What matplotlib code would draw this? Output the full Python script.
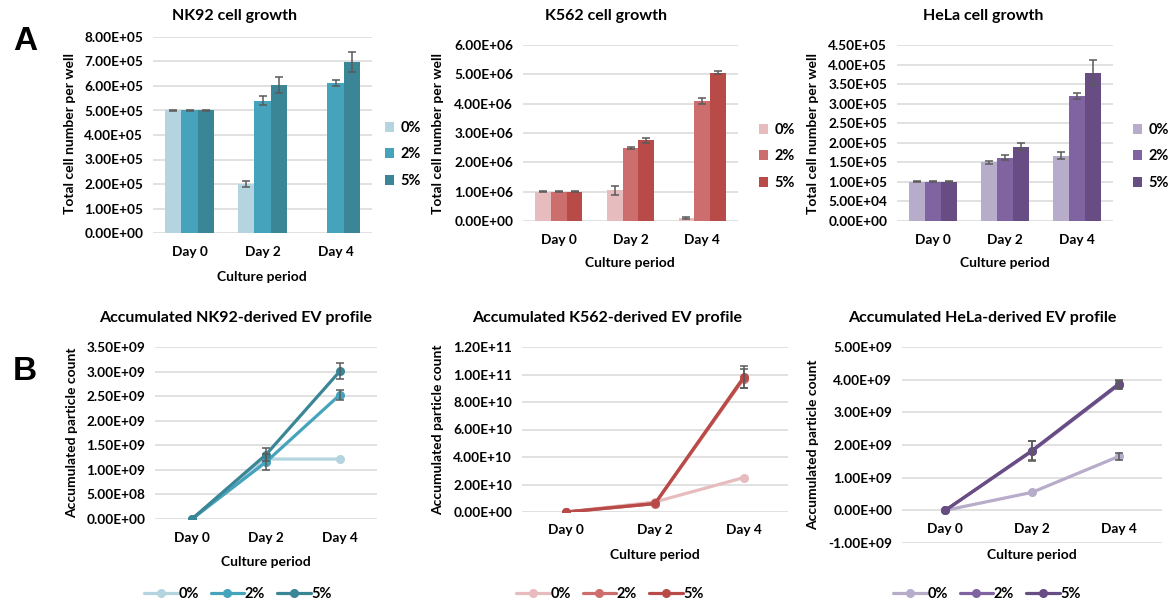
import matplotlib
matplotlib.use('Agg')
import matplotlib.pyplot as plt
from matplotlib.ticker import FuncFormatter, MultipleLocator
import numpy as np

plt.rcParams['font.family'] = ['Lato', 'DejaVu Sans']
plt.rcParams['font.weight'] = 'bold'

days = ['Day 0', 'Day 2', 'Day 4']
conc = ['0%', '2%', '5%']

# ---- Panel A: cell growth (rows = 0%, 2%, 5%; columns = Day 0, 2, 4)
nk92_cells = [[5.00e5, 2.00e5, 0.0], [5.00e5, 5.40e5, 6.12e5], [5.00e5, 6.04e5, 6.98e5]]
nk92_cells_err = [[0.01e5, 0.14e5, 0.0], [0.01e5, 0.19e5, 0.13e5], [0.01e5, 0.32e5, 0.42e5]]
k562_cells = [[1.00e6, 1.05e6, 0.10e6], [1.00e6, 2.50e6, 4.10e6], [1.00e6, 2.75e6, 5.06e6]]
k562_cells_err = [[0.01e6, 0.15e6, 0.03e6], [0.01e6, 0.03e6, 0.11e6], [0.01e6, 0.09e6, 0.05e6]]
hela_cells = [[1.00e5, 1.50e5, 1.67e5], [1.00e5, 1.62e5, 3.19e5], [1.00e5, 1.90e5, 3.79e5]]
hela_cells_err = [[0.01e5, 0.04e5, 0.085e5], [0.01e5, 0.07e5, 0.07e5], [0.01e5, 0.09e5, 0.32e5]]

# ---- Panel B: accumulated EV particle counts
nk92_ev = [[0.0, 1.22e9, 1.22e9], [0.0, 1.16e9, 2.53e9], [0.0, 1.31e9, 3.01e9]]
nk92_ev_err = [[0.0, 0.0, 0.0], [0.0, 0.17e9, 0.10e9], [0.0, 0.13e9, 0.17e9]]
k562_ev = [[0.0, 0.73e10, 2.50e10], [0.0, 0.60e10, 9.70e10], [0.0, 0.62e10, 9.80e10]]
k562_ev_err = [[0.0, 0.0, 0.0], [0.0, 0.0, 0.70e10], [0.0, 0.0, 0.80e10]]
hela_ev = [[0.0, 0.55e9, 1.65e9], [0.0, 1.81e9, 3.84e9], [0.0, 1.83e9, 3.87e9]]
hela_ev_err = [[0.0, 0.0, 0.12e9], [0.0, 0.30e9, 0.12e9], [0.0, 0.30e9, 0.12e9]]

nk92_colors = ['#B4D5DF', '#45A3BB', '#3A8596']
k562_colors = ['#E6BCBE', '#CC6E6D', '#B84A48']
hela_colors = ['#B8ACCB', '#8064A2', '#674D84']

W, H = 1169, 604
fig = plt.figure(figsize=(W / 100, H / 100), dpi=100)


def frac(x, y):
    return x / W, 1 - y / H


def rect(x0, y0, x1, y1):
    return [x0 / W, 1 - y1 / H, (x1 - x0) / W, (y1 - y0) / H]


fmt = FuncFormatter(lambda v, p: f"{v + 0:.2E}")
TICK_FS = 9.8
TITLE_FS = 11.5
LAB_FS = 10
LEG_FS = 10.5
ERRC = '#5A5A5A'


def style_axes(ax, ymin, ymax, step):
    ax.set_ylim(ymin, ymax)
    ax.yaxis.set_major_locator(MultipleLocator(step))
    ax.yaxis.set_major_formatter(fmt)
    ax.set_xlim(-0.5, 2.5)
    ax.set_xticks(range(len(days)))
    ax.set_xticklabels(days)
    for s in ax.spines.values():
        s.set_visible(False)
    ax.tick_params(length=0, labelsize=TICK_FS, colors='#000000', pad=7)
    ax.grid(axis='y', color='#D9D9D9', linewidth=1.1)
    ax.set_axisbelow(True)


def bar_panel(rc, vals, errs, colors, ymax, step, title, tpos, ylpos, xlpos, legpos):
    ax = fig.add_axes(rect(*rc))
    style_axes(ax, 0, ymax, step)
    x = np.arange(len(days))
    bw = 0.22
    handles = []
    for i, c in enumerate(conc):
        xi = x + (i - 1) * bw
        b = ax.bar(xi, vals[i], width=bw, color=colors[i], label=c, zorder=2)
        handles.append(b)
        v = np.array(vals[i], dtype=float)
        e = np.array(errs[i], dtype=float)
        m = v > 0
        ax.errorbar(xi[m], v[m], yerr=e[m], fmt='none', ecolor=ERRC,
                    elinewidth=1.1, capsize=2.6, capthick=1.1, zorder=3)
    ax.tick_params(axis='x', pad=9)
    fig.text(*frac(*tpos), title, ha='center', va='center', fontsize=TITLE_FS, fontweight='bold')
    fig.text(*frac(*ylpos), 'Total cell number per well', rotation=90, ha='center', va='center',
             fontsize=LAB_FS, fontweight='bold')
    fig.text(*frac(*xlpos), 'Culture period', ha='center', va='center', fontsize=LAB_FS, fontweight='bold')
    fig.legend(handles=handles, labels=conc, loc='upper left', bbox_to_anchor=frac(*legpos),
               frameon=False, fontsize=LEG_FS, handlelength=0.65, handleheight=0.65,
               handletextpad=0.4, labelspacing=0.85, borderaxespad=0, borderpad=0)
    return ax


def line_panel(rc, vals, errs, colors, ymin, ymax, step, title, tpos, ylpos, xlpos, legc, zero_axis=False):
    ax = fig.add_axes(rect(*rc))
    style_axes(ax, ymin, ymax, step)
    x = np.arange(len(days))
    handles = []
    for i, c in enumerate(conc):
        ln, = ax.plot(x, vals[i], color=colors[i], linewidth=2.3, marker='o', markersize=5.5,
                      label=c, zorder=2 + i * 0.1, solid_capstyle='round')
        handles.append(ln)
        v = np.array(vals[i], dtype=float)
        e = np.array(errs[i], dtype=float)
        m = e > 0
        ax.errorbar(x[m], v[m], yerr=e[m], fmt='none', ecolor=ERRC,
                    elinewidth=1.1, capsize=2.6, capthick=1.1, zorder=4)
    if zero_axis:
        ax.spines['bottom'].set_position(('data', 0))
    ax.tick_params(axis='x', pad=9)
    fig.text(*frac(*tpos), title, ha='center', va='center', fontsize=TITLE_FS, fontweight='bold')
    fig.text(*frac(*ylpos), 'Accumulated particle count', rotation=90, ha='center', va='center',
             fontsize=LAB_FS, fontweight='bold')
    fig.text(*frac(*xlpos), 'Culture period', ha='center', va='center', fontsize=LAB_FS, fontweight='bold')
    fig.legend(handles=handles, labels=conc, loc='center', bbox_to_anchor=frac(*legc), ncol=3,
               frameon=False, fontsize=LEG_FS, handlelength=2.3, handletextpad=0.05,
               columnspacing=0.8, borderaxespad=0, borderpad=0)
    return ax


bar_panel((153, 37, 372, 233), nk92_cells, nk92_cells_err, nk92_colors, 8e5, 1e5,
          'NK92 cell growth', (234, 16), (70, 133), (262, 277), (385, 121))
bar_panel((523, 45, 738, 221), k562_cells, k562_cells_err, k562_colors, 6e6, 1e6,
          'K562 cell growth', (606, 16), (438, 133), (630, 263), (759, 123))
bar_panel((897, 45, 1113, 221), hela_cells, hela_cells_err, hela_colors, 4.5e5, 0.5e5,
          'HeLa cell growth', (983, 16), (813, 133), (1005, 263), (1133, 123))

line_panel((155, 347, 377, 519), nk92_ev, nk92_ev_err, nk92_colors, 0, 3.5e9, 0.5e9,
           'Accumulated NK92-derived EV profile', (236, 318), (72, 433), (266, 562), (238, 594))
line_panel((522, 347, 788, 512), k562_ev, k562_ev_err, k562_colors, 0, 1.2e11, 2e10,
           'Accumulated K562-derived EV profile', (607, 318), (438, 430), (655, 555), (610, 594))
line_panel((902, 347, 1162, 543), hela_ev, hela_ev_err, hela_colors, -1e9, 5e9, 1e9,
           'Accumulated HeLa-derived EV profile', (982, 318), (813, 445), (1032, 555), (987, 594),
           zero_axis=True)

fig.text(*frac(25, 41), 'A', ha='center', va='center', fontsize=24, fontweight='bold',
         family='Liberation Sans')
fig.text(*frac(25, 371), 'B', ha='center', va='center', fontsize=24, fontweight='bold',
         family='Liberation Sans')

fig.savefig('out.png', dpi=100, facecolor='white')
